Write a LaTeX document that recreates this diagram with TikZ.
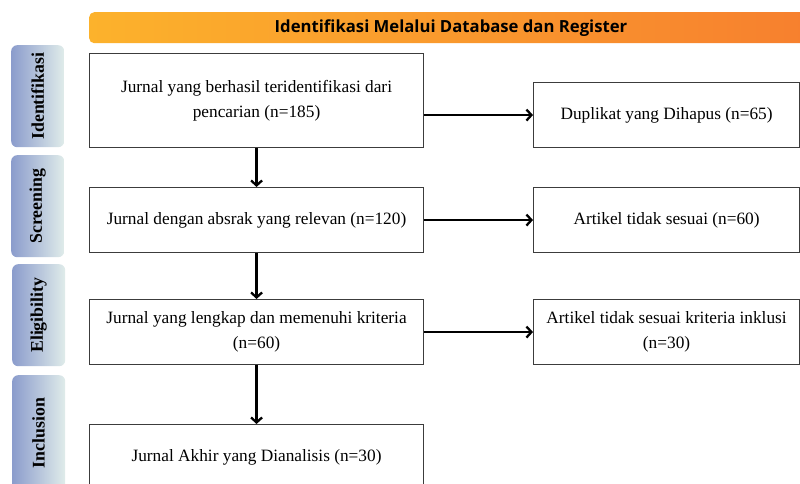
\documentclass[tikz,border=0pt]{standalone}
\usepackage{fontspec}
\setmainfont{Liberation Serif}
\newfontfamily\headfont{Open Sans}
\usetikzlibrary{arrows.meta}
\definecolor{hdleft}{RGB}{252,178,44}
\definecolor{hdright}{RGB}{247,128,46}
\definecolor{sdleft}{RGB}{139,156,204}
\definecolor{sdright}{RGB}{224,236,234}
\definecolor{boxline}{RGB}{60,60,60}
\tikzset{
  mainbox/.style={draw=boxline, line width=1.1pt, fill=white, anchor=north west, align=center,
    font=\fontsize{17.3}{25}\selectfont, inner sep=0pt},
  sidebox/.style={rounded corners=6pt, left color=sdleft, right color=sdright, anchor=north west,
    minimum width=53pt, minimum height=102pt, inner sep=0pt, font=\fontsize{17.8}{20}\selectfont\bfseries},
  header/.style={rounded corners=5pt, left color=hdleft, right color=hdright, anchor=north west,
    minimum width=716pt, minimum height=31pt, inner sep=0pt},
  arr/.style={line width=2.3pt, -{Straight Barb[length=5pt,width=11pt]}}
}
\begin{document}
\begin{tikzpicture}[x=1pt,y=-1pt]
\clip (0,0) rectangle (800,484);
\fill[white] (0,0) rectangle (800,484);
% header
\node[header] (hd) at (89,12) {};
\node[font=\headfont\fontsize{16.7}{18}\selectfont\bfseries] (hdt) at (451,28) {Identifikasi Melalui Database dan Register};
% side labels
\node[sidebox] (s1) at (11,45) {\rotatebox{90}{Identifikasi}};
\node[sidebox] (s2) at (11,155) {\rotatebox{90}{Screening}};
\node[sidebox] (s3) at (12,264) {\rotatebox{90}{Eligibility}};
\node[sidebox, minimum height=130pt] (s4) at (12,375) {};
\node[font=\fontsize{17.8}{20}\selectfont\bfseries] (s4t) at (38.5,433) {\rotatebox{90}{Inclusion}};
% main boxes
\node[mainbox, minimum width=334pt, minimum height=94pt] (b1) at (89,53)
  {Jurnal yang berhasil teridentifikasi dari\\pencarian (n=185)};
\node[mainbox, minimum width=334pt, minimum height=65pt] (b2) at (89,187)
  {Jurnal dengan absrak yang relevan (n=120)};
\node[mainbox, minimum width=334pt, minimum height=65pt] (b3) at (89,299)
  {Jurnal yang lengkap dan memenuhi kriteria\\(n=60)};
\node[mainbox, minimum width=334pt, minimum height=65pt] (b4) at (89,424)
  {Jurnal Akhir yang Dianalisis (n=30)};
% right boxes
\node[mainbox, minimum width=266pt, minimum height=65pt] (r1) at (533,82)
  {Duplikat yang Dihapus (n=65)};
\node[mainbox, minimum width=266pt, minimum height=65pt] (r2) at (533,187)
  {Artikel tidak sesuai (n=60)};
\node[mainbox, minimum width=266pt, minimum height=65pt] (r3) at (533,299)
  {Artikel tidak sesuai kriteria inklusi\\(n=30)};
% arrows
\draw[arr] (b1.south) -- (b2.north);
\draw[arr] (b2.south) -- (b3.north);
\draw[arr] (b3.south) -- (b4.north);
\draw[arr] (b1.east |- r1.west) -- (r1.west);
\draw[arr] (b2.east) -- (r2.west);
\draw[arr] (b3.east) -- (r3.west);
\end{tikzpicture}
\end{document}
